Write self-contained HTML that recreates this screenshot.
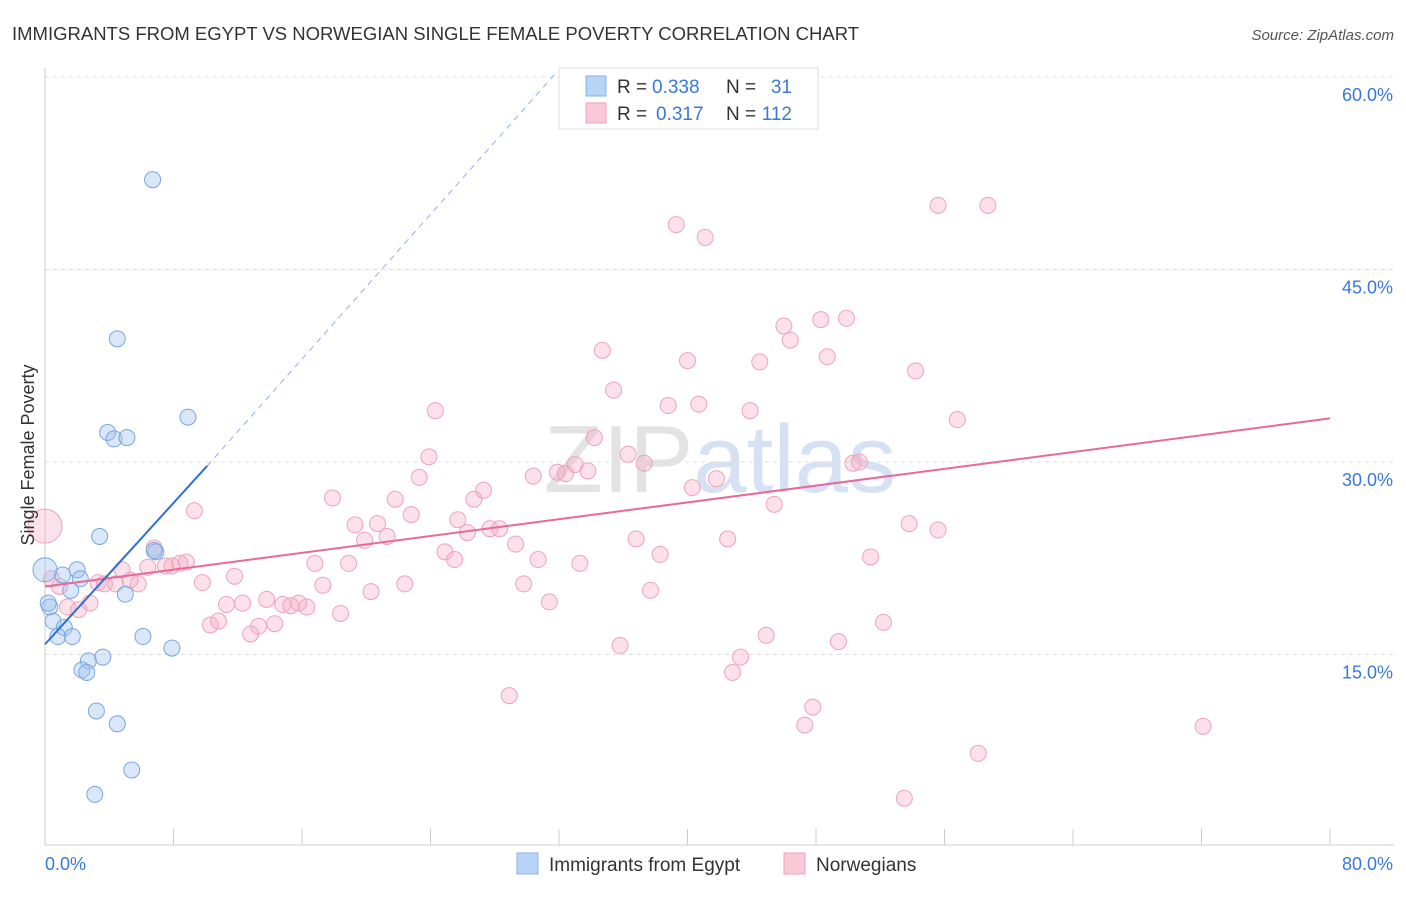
<!DOCTYPE html>
<html><head><meta charset="utf-8"><style>
body{margin:0;background:#fff;font-family:"Liberation Sans",sans-serif}
svg text{font-family:"Liberation Sans",sans-serif}
</style></head><body>
<svg id="c" width="1406" height="892">
<text x="12" y="40" font-size="18.5" fill="#333">IMMIGRANTS FROM EGYPT VS NORWEGIAN SINGLE FEMALE POVERTY CORRELATION CHART</text>
<text x="1394" y="40" font-size="15" fill="#555" font-style="italic" text-anchor="end">Source: ZipAtlas.com</text>
<text x="720" y="492" font-size="96" fill="#e3e3e3" font-family="Liberation Serif" text-anchor="middle">ZIP<tspan fill="#d6e2f3" font-family="Liberation Sans">atlas</tspan></text>
<g id="grid"></g><g id="marks"></g>
<text x="34" y="455" font-size="18" fill="#333" transform="rotate(-90 34 455)" text-anchor="middle">Single Female Poverty</text>
<g>
<rect x="559" y="68" width="259" height="61" fill="#fff" stroke="#ddd"/>
<rect x="586" y="76" width="20" height="20" fill="#b7d3f5" stroke="#8ab2e6"/>
<rect x="586" y="103" width="20" height="20" fill="#f9c9d8" stroke="#f0a0ba"/>
<text x="617" y="93" font-size="19" fill="#333">R =</text>
<text x="652" y="93" font-size="19" fill="#3a78d8">0.338</text>
<text x="726" y="93" font-size="19" fill="#333">N =</text>
<text x="792" y="93" font-size="19" fill="#3a78d8" text-anchor="end">31</text>
<text x="617" y="120" font-size="19" fill="#333">R =</text>
<text x="656" y="120" font-size="19" fill="#3a78d8">0.317</text>
<text x="726" y="120" font-size="19" fill="#333">N =</text>
<text x="792" y="120" font-size="19" fill="#3a78d8" text-anchor="end">112</text>
</g>
<g>
<rect x="517" y="853" width="21" height="21" fill="#b7d3f5" stroke="#8ab2e6"/>
<text x="549" y="871" font-size="19" fill="#333">Immigrants from Egypt</text>
<rect x="784" y="853" width="21" height="21" fill="#f9c9d8" stroke="#f0a0ba"/>
<text x="816" y="871" font-size="19" fill="#333">Norwegians</text>
</g>
</svg>
<script>
const xTicksPct=[0,80];
const yTicks=[15,30,45,60];
const bluePts=[[6.7,52],[4.5,39.6],[8.9,33.5],[3.9,32.3],[4.3,31.8],[5.1,31.9],[3.4,24.2],[6.9,23.0],[6.8,23.1],[0.0,21.6],[1.1,21.2],[2.0,21.6],[2.2,20.9],[1.6,20.0],[5.0,19.7],[0.3,18.7],[0.5,17.6],[1.2,17.1],[0.8,16.4],[1.7,16.4],[6.1,16.4],[7.9,15.5],[2.7,14.5],[3.6,14.8],[2.3,13.8],[2.6,13.6],[3.2,10.6],[4.5,9.6],[5.4,6.0],[3.1,4.1],[0.2,19.0]];
const pinkPts=[[0,25],[0.4,20.9],[0.9,20.3],[1.4,18.7],[2.1,18.5],[2.8,19.0],[3.3,20.6],[3.7,20.5],[4.4,20.5],[4.8,21.6],[5.3,20.8],[5.8,20.5],[6.4,21.8],[6.8,23.3],[7.5,21.9],[7.9,21.9],[8.4,22.1],[8.8,22.2],[9.3,26.2],[9.8,20.6],[10.3,17.3],[10.8,17.6],[11.3,18.9],[11.8,21.1],[12.3,19.0],[12.8,16.6],[13.3,17.2],[13.8,19.3],[14.3,17.4],[14.8,18.9],[15.3,18.8],[15.8,19.0],[16.3,18.7],[16.8,22.1],[17.3,20.4],[17.9,27.2],[18.4,18.2],[18.9,22.1],[19.3,25.1],[19.9,23.9],[20.3,19.9],[20.7,25.2],[21.3,24.2],[21.8,27.1],[22.4,20.5],[22.8,25.9],[23.3,28.8],[23.9,30.4],[24.3,34.0],[24.9,23.0],[25.5,22.4],[25.7,25.5],[26.3,24.5],[26.7,27.1],[27.3,27.8],[27.7,24.8],[28.3,24.8],[28.9,11.8],[29.3,23.6],[29.8,20.5],[30.4,28.9],[30.7,22.4],[31.4,19.1],[31.9,29.2],[32.4,29.1],[33.0,29.8],[33.3,22.1],[33.8,29.3],[34.2,31.9],[34.7,38.7],[35.4,35.6],[35.8,15.7],[36.3,30.6],[36.8,24.0],[37.3,29.9],[37.7,20.0],[38.3,22.8],[38.8,34.4],[39.3,48.5],[40.0,37.9],[40.3,28.0],[40.7,34.5],[41.1,47.5],[41.8,28.7],[42.5,24.0],[42.8,13.6],[43.3,14.8],[43.9,34.0],[44.5,37.8],[44.9,16.5],[45.4,26.7],[46.0,40.6],[46.4,39.5],[47.3,9.5],[47.8,10.9],[48.3,41.1],[48.7,38.2],[49.4,16.0],[49.9,41.2],[50.3,29.9],[50.7,30.0],[51.4,22.6],[52.2,17.5],[53.5,3.8],[53.8,25.2],[54.2,37.1],[55.6,24.7],[55.6,50.0],[56.8,33.3],[58.1,7.3],[58.7,50.0],[72.1,9.4]];
const blueTrend=[[0,15.8],[10.1,29.7]];
const blueDash=[[10.1,29.7],[31.8,60.3]];
const pinkTrend=[[0,20.3],[80,33.4]];
const NS='http://www.w3.org/2000/svg';
const X=v=>45+v/80*1285, Y=v=>847-v*12.833;
function el(t,a,p){const e=document.createElementNS(NS,t);for(const k in a)e.setAttribute(k,a[k]);p.appendChild(e);return e;}
const grid=document.getElementById('grid'),marks=document.getElementById('marks');
yTicks.forEach(t=>{
 const l=el('line',{x1:45,x2:1394,y1:Y(t),y2:Y(t),stroke:'#ddd','stroke-dasharray':'4,4'},grid);
 
 
 const tx=el('text',{x:1393,y:Y(t)+24,'font-size':18,fill:'#3a78d8','text-anchor':'end'},grid);
 tx.textContent=t.toFixed(1)+'%';
 
 
});
const ax=el('line',{x1:45,x2:1394,y1:845,y2:845,stroke:'#ccc'},grid);


const ay=el('line',{x1:45,x2:45,y1:68,y2:845,stroke:'#ccc'},grid);


for(let i=0;i<=10;i++){const t=el('line',{x1:X(i*8),x2:X(i*8),y1:829,y2:845,stroke:'#ccc'},grid);
 
 }
xTicksPct.forEach((t,i)=>{const tx=el('text',{x:i?1393:45,y:870,'font-size':18,fill:'#3a78d8','text-anchor':i?'end':'start'},grid);
 tx.textContent=t.toFixed(1)+'%';
 
 });
pinkPts.forEach((p,i)=>{const c=el('circle',{cx:X(p[0]),cy:Y(p[1]),r:i==0?17:8,fill:'rgba(246,170,195,0.35)',stroke:'#eea3bb','stroke-width':1},marks);
 
 });
bluePts.forEach((p,i)=>{const c=el('circle',{cx:X(p[0]),cy:Y(p[1]),r:i==9?12:8,fill:'rgba(160,196,240,0.4)',stroke:'#7aa6e0','stroke-width':1},marks);
 
 });
const line=(pts,st,name)=>{const l=el('line',Object.assign({x1:X(pts[0][0]),y1:Y(pts[0][1]),x2:X(pts[1][0]),y2:Y(pts[1][1])},st),marks);
 
 };
line(pinkTrend,{stroke:'#e8699a','stroke-width':2},'norwegians-trendline');
line(blueTrend,{stroke:'#2f6fd6','stroke-width':2},'egypt-trendline');
line(blueDash,{stroke:'#8fb2e6','stroke-width':1,'stroke-dasharray':'6,5'},'egypt-trendline-extension');
</script>
</body></html>
